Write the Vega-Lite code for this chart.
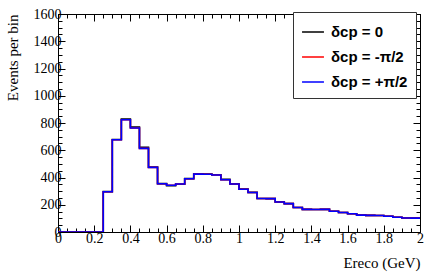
{
  "$schema": "https://vega.github.io/schema/vega-lite/v6.json",
  "width": 362,
  "height": 218,
  "autosize": "none",
  "padding": {"left": 58, "top": 14, "right": 22, "bottom": 45},
  "background": "white",
  "config": {
    "view": {"stroke": "black", "strokeWidth": 1},
    "axis": {"domainColor": "black", "tickColor": "black", "labelColor": "black", "titleColor": "black", "grid": false, "labelFont": "Liberation Serif", "labelFontSize": 14, "titleFont": "Liberation Serif", "titleFontSize": 15, "titleFontWeight": "normal"}
  },
  "data": {"values": [
    {"E": 0, "n": 0, "s": "δcp = 0"}, {"E": 0.05, "n": 0, "s": "δcp = 0"}, {"E": 0.1, "n": 0, "s": "δcp = 0"}, {"E": 0.15, "n": 0, "s": "δcp = 0"}, {"E": 0.2, "n": 0, "s": "δcp = 0"},
    {"E": 0.25, "n": 296, "s": "δcp = 0"}, {"E": 0.3, "n": 679, "s": "δcp = 0"}, {"E": 0.35, "n": 829, "s": "δcp = 0"}, {"E": 0.4, "n": 771, "s": "δcp = 0"}, {"E": 0.45, "n": 621, "s": "δcp = 0"},
    {"E": 0.5, "n": 476, "s": "δcp = 0"}, {"E": 0.55, "n": 355, "s": "δcp = 0"}, {"E": 0.6, "n": 339, "s": "δcp = 0"}, {"E": 0.65, "n": 351, "s": "δcp = 0"}, {"E": 0.7, "n": 392, "s": "δcp = 0"},
    {"E": 0.75, "n": 427, "s": "δcp = 0"}, {"E": 0.8, "n": 426, "s": "δcp = 0"}, {"E": 0.85, "n": 420, "s": "δcp = 0"}, {"E": 0.9, "n": 386, "s": "δcp = 0"}, {"E": 0.95, "n": 353, "s": "δcp = 0"},
    {"E": 1.0, "n": 315, "s": "δcp = 0"}, {"E": 1.05, "n": 291, "s": "δcp = 0"}, {"E": 1.1, "n": 246, "s": "δcp = 0"}, {"E": 1.15, "n": 245, "s": "δcp = 0"}, {"E": 1.2, "n": 221, "s": "δcp = 0"},
    {"E": 1.25, "n": 208, "s": "δcp = 0"}, {"E": 1.3, "n": 180, "s": "δcp = 0"}, {"E": 1.35, "n": 166, "s": "δcp = 0"}, {"E": 1.4, "n": 165, "s": "δcp = 0"}, {"E": 1.45, "n": 166, "s": "δcp = 0"},
    {"E": 1.5, "n": 152, "s": "δcp = 0"}, {"E": 1.55, "n": 143, "s": "δcp = 0"}, {"E": 1.6, "n": 134, "s": "δcp = 0"}, {"E": 1.65, "n": 124, "s": "δcp = 0"}, {"E": 1.7, "n": 122, "s": "δcp = 0"},
    {"E": 1.75, "n": 121, "s": "δcp = 0"}, {"E": 1.8, "n": 116, "s": "δcp = 0"}, {"E": 1.85, "n": 108, "s": "δcp = 0"}, {"E": 1.9, "n": 103, "s": "δcp = 0"}, {"E": 1.95, "n": 102, "s": "δcp = 0"}, {"E": 2.0, "n": 102, "s": "δcp = 0"},

    {"E": 0, "n": 0, "s": "δcp = -π/2"}, {"E": 0.05, "n": 0, "s": "δcp = -π/2"}, {"E": 0.1, "n": 0, "s": "δcp = -π/2"}, {"E": 0.15, "n": 0, "s": "δcp = -π/2"}, {"E": 0.2, "n": 0, "s": "δcp = -π/2"},
    {"E": 0.25, "n": 295, "s": "δcp = -π/2"}, {"E": 0.3, "n": 677, "s": "δcp = -π/2"}, {"E": 0.35, "n": 824, "s": "δcp = -π/2"}, {"E": 0.4, "n": 763, "s": "δcp = -π/2"}, {"E": 0.45, "n": 614, "s": "δcp = -π/2"},
    {"E": 0.5, "n": 474, "s": "δcp = -π/2"}, {"E": 0.55, "n": 354, "s": "δcp = -π/2"}, {"E": 0.6, "n": 343, "s": "δcp = -π/2"}, {"E": 0.65, "n": 352, "s": "δcp = -π/2"}, {"E": 0.7, "n": 391, "s": "δcp = -π/2"},
    {"E": 0.75, "n": 425, "s": "δcp = -π/2"}, {"E": 0.8, "n": 424, "s": "δcp = -π/2"}, {"E": 0.85, "n": 418, "s": "δcp = -π/2"}, {"E": 0.9, "n": 384, "s": "δcp = -π/2"}, {"E": 0.95, "n": 352, "s": "δcp = -π/2"},
    {"E": 1.0, "n": 314, "s": "δcp = -π/2"}, {"E": 1.05, "n": 290, "s": "δcp = -π/2"}, {"E": 1.1, "n": 246, "s": "δcp = -π/2"}, {"E": 1.15, "n": 245, "s": "δcp = -π/2"}, {"E": 1.2, "n": 220, "s": "δcp = -π/2"},
    {"E": 1.25, "n": 208, "s": "δcp = -π/2"}, {"E": 1.3, "n": 180, "s": "δcp = -π/2"}, {"E": 1.35, "n": 166, "s": "δcp = -π/2"}, {"E": 1.4, "n": 165, "s": "δcp = -π/2"}, {"E": 1.45, "n": 166, "s": "δcp = -π/2"},
    {"E": 1.5, "n": 152, "s": "δcp = -π/2"}, {"E": 1.55, "n": 143, "s": "δcp = -π/2"}, {"E": 1.6, "n": 134, "s": "δcp = -π/2"}, {"E": 1.65, "n": 124, "s": "δcp = -π/2"}, {"E": 1.7, "n": 122, "s": "δcp = -π/2"},
    {"E": 1.75, "n": 121, "s": "δcp = -π/2"}, {"E": 1.8, "n": 116, "s": "δcp = -π/2"}, {"E": 1.85, "n": 108, "s": "δcp = -π/2"}, {"E": 1.9, "n": 103, "s": "δcp = -π/2"}, {"E": 1.95, "n": 102, "s": "δcp = -π/2"}, {"E": 2.0, "n": 102, "s": "δcp = -π/2"},

    {"E": 0, "n": 0, "s": "δcp = +π/2"}, {"E": 0.05, "n": 0, "s": "δcp = +π/2"}, {"E": 0.1, "n": 0, "s": "δcp = +π/2"}, {"E": 0.15, "n": 0, "s": "δcp = +π/2"}, {"E": 0.2, "n": 0, "s": "δcp = +π/2"},
    {"E": 0.25, "n": 295, "s": "δcp = +π/2"}, {"E": 0.3, "n": 677, "s": "δcp = +π/2"}, {"E": 0.35, "n": 824, "s": "δcp = +π/2"}, {"E": 0.4, "n": 763, "s": "δcp = +π/2"}, {"E": 0.45, "n": 614, "s": "δcp = +π/2"},
    {"E": 0.5, "n": 474, "s": "δcp = +π/2"}, {"E": 0.55, "n": 354, "s": "δcp = +π/2"}, {"E": 0.6, "n": 343, "s": "δcp = +π/2"}, {"E": 0.65, "n": 352, "s": "δcp = +π/2"}, {"E": 0.7, "n": 391, "s": "δcp = +π/2"},
    {"E": 0.75, "n": 425, "s": "δcp = +π/2"}, {"E": 0.8, "n": 424, "s": "δcp = +π/2"}, {"E": 0.85, "n": 418, "s": "δcp = +π/2"}, {"E": 0.9, "n": 384, "s": "δcp = +π/2"}, {"E": 0.95, "n": 352, "s": "δcp = +π/2"},
    {"E": 1.0, "n": 314, "s": "δcp = +π/2"}, {"E": 1.05, "n": 290, "s": "δcp = +π/2"}, {"E": 1.1, "n": 246, "s": "δcp = +π/2"}, {"E": 1.15, "n": 245, "s": "δcp = +π/2"}, {"E": 1.2, "n": 220, "s": "δcp = +π/2"},
    {"E": 1.25, "n": 208, "s": "δcp = +π/2"}, {"E": 1.3, "n": 180, "s": "δcp = +π/2"}, {"E": 1.35, "n": 166, "s": "δcp = +π/2"}, {"E": 1.4, "n": 165, "s": "δcp = +π/2"}, {"E": 1.45, "n": 166, "s": "δcp = +π/2"},
    {"E": 1.5, "n": 152, "s": "δcp = +π/2"}, {"E": 1.55, "n": 143, "s": "δcp = +π/2"}, {"E": 1.6, "n": 134, "s": "δcp = +π/2"}, {"E": 1.65, "n": 124, "s": "δcp = +π/2"}, {"E": 1.7, "n": 122, "s": "δcp = +π/2"},
    {"E": 1.75, "n": 121, "s": "δcp = +π/2"}, {"E": 1.8, "n": 116, "s": "δcp = +π/2"}, {"E": 1.85, "n": 108, "s": "δcp = +π/2"}, {"E": 1.9, "n": 103, "s": "δcp = +π/2"}, {"E": 1.95, "n": 102, "s": "δcp = +π/2"}, {"E": 2.0, "n": 102, "s": "δcp = +π/2"}
  ]},
  "encoding": {
    "x": {"field": "E", "type": "quantitative", "scale": {"domain": [0, 2], "nice": false, "zero": false}},
    "y": {"field": "n", "type": "quantitative", "scale": {"domain": [0, 1600], "nice": false}},
    "color": {"field": "s", "type": "nominal", "title": null,
      "scale": {"domain": ["δcp = 0", "δcp = -π/2", "δcp = +π/2"], "range": ["black", "#ff0000", "#0000ff"]},
      "legend": {"orient": "none", "legendX": 235, "legendY": -2, "direction": "vertical",
        "symbolType": "stroke", "symbolSize": 480, "symbolStrokeWidth": 1.5,
        "labelFont": "Liberation Sans", "labelFontSize": 15, "labelFontWeight": "bold", "labelColor": "black",
        "strokeColor": "#333333", "fillColor": "white", "padding": 8, "rowPadding": 5, "labelOffset": 6}}
  },
  "layer": [
    {
      "transform": [{"filter": "datum.s === 'δcp = 0'"}],
      "mark": {"type": "line", "interpolate": "step-after", "strokeWidth": 1.6, "clip": true},
      "encoding": {
        "x": {"field": "E", "type": "quantitative",
          "axis": {"orient": "bottom", "title": "Ereco (GeV)", "titleAnchor": "end", "titlePadding": 7,
            "values": [0,0.05,0.1,0.15,0.2,0.25,0.3,0.35,0.4,0.45,0.5,0.55,0.6,0.65,0.7,0.75,0.8,0.85,0.9,0.95,1,1.05,1.1,1.15,1.2,1.25,1.3,1.35,1.4,1.45,1.5,1.55,1.6,1.65,1.7,1.75,1.8,1.85,1.9,1.95,2],
            "format": "~g", "labelExpr": "abs(datum.value*5 - round(datum.value*5)) < 0.001 ? datum.label : ''",
            "labelPadding": 6, "labelFlush": false, "labelOverlap": false,
            "tickSize": {"condition": {"test": "abs(datum.value*5 - round(datum.value*5)) < 0.001", "value": -7}, "value": -4}}},
        "y": {"field": "n", "type": "quantitative",
          "axis": {"orient": "left", "title": "Events per bin", "titleAnchor": "end", "titlePadding": 13,
            "values": [0,50,100,150,200,250,300,350,400,450,500,550,600,650,700,750,800,850,900,950,1000,1050,1100,1150,1200,1250,1300,1350,1400,1450,1500,1550,1600],
            "format": "d", "labelExpr": "datum.value % 200 === 0 ? datum.label : ''",
            "labelPadding": 4, "labelFlush": false, "labelOverlap": false,
            "tickSize": {"condition": {"test": "datum.value % 200 === 0", "value": -7}, "value": -4}}}
      }
    },
    {
      "transform": [{"filter": "datum.s === 'δcp = -π/2'"}],
      "mark": {"type": "line", "interpolate": "step-after", "strokeWidth": 1.6, "clip": true},
      "encoding": {
        "x": {"field": "E", "type": "quantitative",
          "axis": {"orient": "top", "title": null, "labels": false,
            "values": [0,0.05,0.1,0.15,0.2,0.25,0.3,0.35,0.4,0.45,0.5,0.55,0.6,0.65,0.7,0.75,0.8,0.85,0.9,0.95,1,1.05,1.1,1.15,1.2,1.25,1.3,1.35,1.4,1.45,1.5,1.55,1.6,1.65,1.7,1.75,1.8,1.85,1.9,1.95,2],
            "tickSize": {"condition": {"test": "abs(datum.value*5 - round(datum.value*5)) < 0.001", "value": -7}, "value": -4}}},
        "y": {"field": "n", "type": "quantitative",
          "axis": {"orient": "right", "title": null, "labels": false,
            "values": [0,50,100,150,200,250,300,350,400,450,500,550,600,650,700,750,800,850,900,950,1000,1050,1100,1150,1200,1250,1300,1350,1400,1450,1500,1550,1600],
            "tickSize": {"condition": {"test": "datum.value % 200 === 0", "value": -7}, "value": -4}}}
      }
    },
    {
      "transform": [{"filter": "datum.s === 'δcp = +π/2'"}],
      "mark": {"type": "line", "interpolate": "step-after", "strokeWidth": 1.6, "clip": true},
      "encoding": {
        "x": {"field": "E", "type": "quantitative", "axis": null},
        "y": {"field": "n", "type": "quantitative", "axis": null}
      }
    }
  ],
  "resolve": {"axis": {"x": "independent", "y": "independent"}}
}
